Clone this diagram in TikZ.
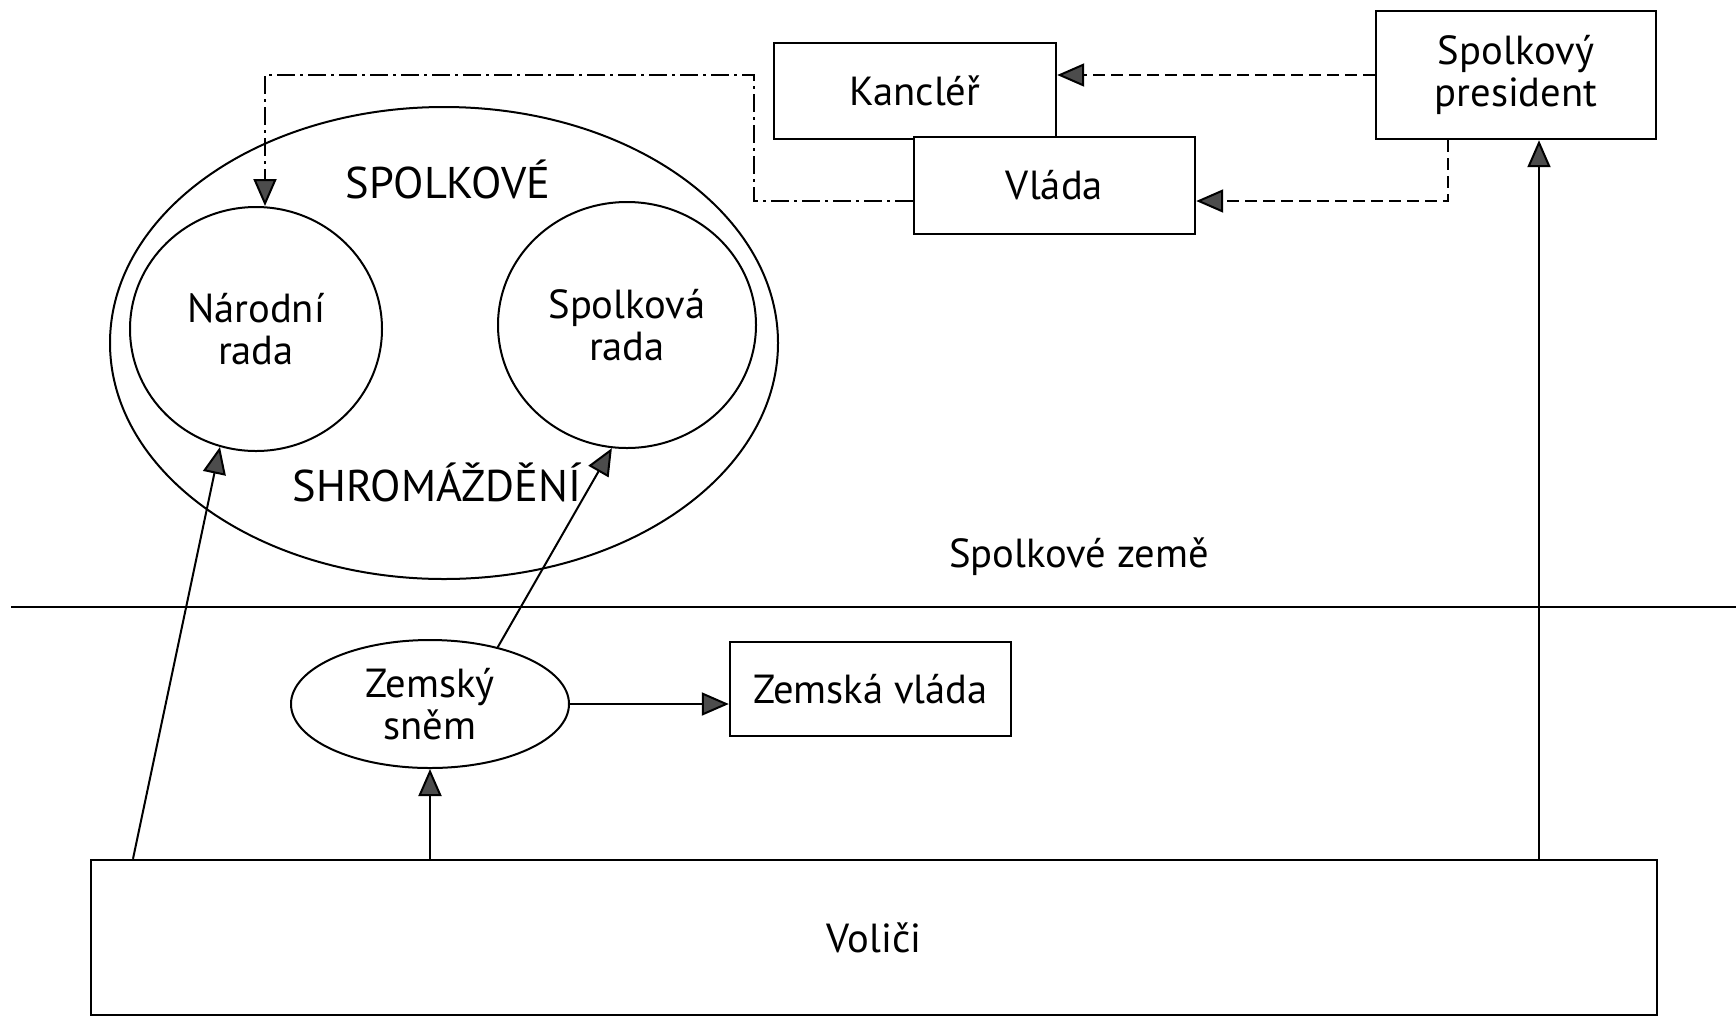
\documentclass[tikz,border=0pt]{standalone}
\usepackage{fontspec}
\setmainfont{PT Sans}
\usetikzlibrary{arrows.meta,calc,shapes.geometric}
\begin{document}
\begin{tikzpicture}[x=0.5pt,y=-0.5pt,
  every node/.style={font=\fontsize{20.3pt}{21pt}\selectfont, align=center, inner sep=0pt},
  capstext/.style={font=\fontsize{22.2pt}{24pt}\selectfont},
  box/.style={draw, line width=1.2pt, rectangle},
  oval/.style={draw, line width=1pt, ellipse},
  arr/.style={line width=1pt, -{Triangle[length=13.5pt,width=11.5pt,fill=black!70]}},
  dsh/.style={arr, dash pattern=on 6pt off 3pt},
  dshdot/.style={arr, dash pattern=on 9pt off 2.5pt on 1.5pt off 2.5pt},
  sep/.style={line width=1.3pt}]
\useasboundingbox (0,0) rectangle (1736,1019);
% boxes
\node[box, minimum width=141pt, minimum height=48pt] (kanc) at (915,91) {Kancléř};
\node[box, minimum width=140.5pt, minimum height=48.5pt, fill=white] (vlada) at (1054.5,185.5) {Vláda};
\node[box, minimum width=140pt, minimum height=64pt] (pres) at (1516,75) {Spolkový\\president};
% assembly
\node[oval, minimum width=334pt, minimum height=236pt] (big) at (444,343) {};
\node[oval, minimum width=126pt, minimum height=122pt] (narodni) at (256,329) {Národní\\rada};
\node[oval, minimum width=129pt, minimum height=123pt] (spolkova) at (627,325) {Spolková\\rada};
\node[capstext] (tspol) at (448,179) {SPOLKOVÉ};
\node[capstext] (tshrom) at (437,482) {SHROMÁŽDĚNÍ};
\node (tzeme) at (1079,557) {Spolkové země};
% separator
\coordinate (sepL) at (11,607);
\coordinate (sepR) at (1736,607);
\draw[sep] (sepL) -- (sepR);
% lower part
\node[oval, minimum width=139pt, minimum height=64pt] (zemsky) at (430,704) {Zemský\\sněm};
\node[box, minimum width=140.5pt, minimum height=47pt] (zvlada) at (870.5,689) {Zemská vláda};
\node[box, minimum width=783pt, minimum height=77.5pt] (volici) at (874,937.5) {Voliči};
% solid arrows
\draw[arr] (133,0 |- volici.north) -- (narodni.253);
\draw[arr] (zemsky.40) -- (spolkova.263);
\draw[arr] (zemsky.south |- volici.north) -- (zemsky.south);
\draw[arr] (zemsky.east) -- (zemsky.east -| zvlada.west);
\draw[arr] (1539,0 |- volici.north) -- (1539,0 |- pres.south);
% dashed arrows
\draw[dsh] (pres.west) -- (pres.west -| kanc.east);
\coordinate (vr) at ($(vlada.east)+(0,15.5)$);
\draw[dsh] (1448,0 |- pres.south) |- (vr);
% dash-dot
\coordinate (vl) at ($(vlada.west)+(0,15.5)$);
\draw[dshdot] (vl) -- (754,0 |- vl) -- (754,75) -- (265,75) -- (265,0 |- narodni.north);
\end{tikzpicture}
\end{document}
